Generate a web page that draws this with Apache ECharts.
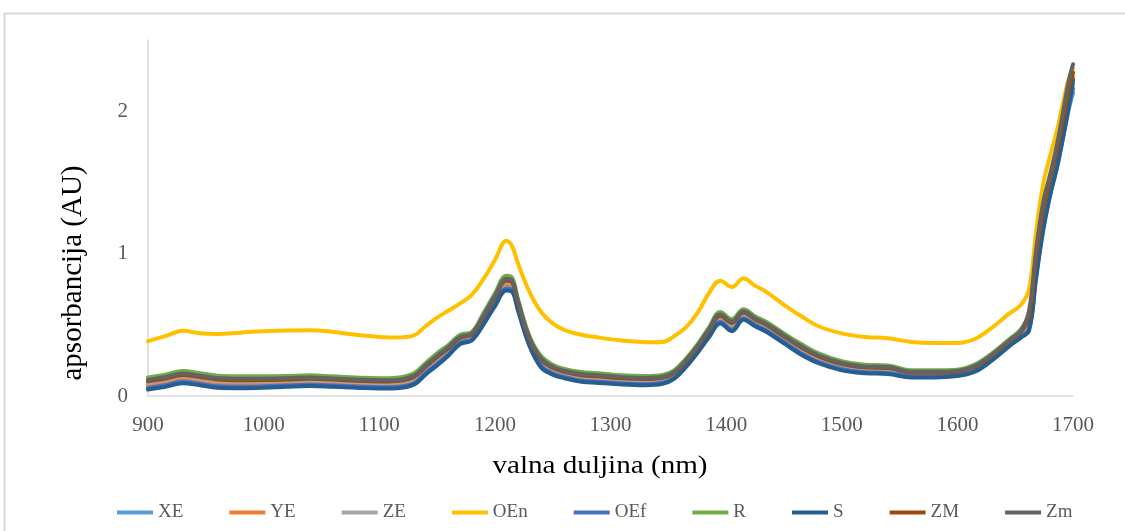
<!DOCTYPE html>
<html>
<head>
<meta charset="utf-8">
<script src="https://cdn.jsdelivr.net/npm/echarts@6/dist/echarts.min.js"></script>
<style>
html,body{margin:0;padding:0;background:#fff;}
#chart{width:1125px;height:531px;}
</style>
</head>
<body>
<div id="chart"></div>
<script>
const wavelengths = [900,915,930,945,960,980,1000,1020,1040,1060,1080,1100,1115,1130,1140,1150,1160,1170,1180,1190,1200,1210,1215,1220,1230,1240,1250,1260,1275,1290,1310,1330,1345,1355,1365,1375,1385,1395,1405,1415,1425,1435,1450,1465,1480,1500,1520,1540,1560,1580,1600,1615,1630,1645,1655,1662,1668,1674,1680,1686,1692,1696,1700];

const XE  = [.066,.086,.111,.096,.079,.076,.078,.084,.089,.083,.076,.07,.073,.10,.17,.236,.304,.381,.405,.52,.653,.766,.755,.62,.368,.22,.168,.141,.117,.109,.096,.091,.101,.135,.215,.315,.428,.53,.476,.554,.508,.468,.388,.309,.248,.196,.175,.17,.143,.143,.151,.183,.263,.363,.425,.48,.85,1.18,1.42,1.6,1.84,2.0,2.13];
const YE  = [.081,.101,.126,.111,.094,.09,.092,.097,.102,.096,.088,.082,.086,.114,.184,.251,.317,.392,.415,.534,.668,.784,.772,.634,.379,.234,.179,.152,.129,.121,.107,.102,.111,.145,.225,.325,.439,.544,.491,.567,.519,.479,.399,.322,.259,.207,.185,.18,.151,.151,.159,.191,.271,.371,.435,.52,.92,1.25,1.48,1.68,1.92,2.1,2.24];
const ZE  = [.092,.112,.137,.122,.105,.101,.102,.106,.111,.105,.098,.092,.095,.124,.194,.262,.326,.401,.423,.544,.68,.798,.785,.644,.389,.244,.189,.161,.137,.129,.116,.111,.12,.153,.233,.333,.449,.554,.502,.576,.529,.489,.409,.331,.269,.216,.193,.188,.158,.158,.165,.198,.278,.378,.443,.53,.9,1.23,1.46,1.66,1.9,2.07,2.2];
const OEn = [.385,.42,.458,.44,.435,.445,.455,.46,.462,.45,.43,.415,.41,.425,.49,.55,.6,.65,.71,.82,.955,1.09,1.05,.93,.73,.59,.51,.465,.43,.41,.39,.378,.38,.42,.48,.58,.72,.81,.765,.825,.775,.73,.64,.56,.49,.44,.415,.405,.38,.372,.372,.4,.48,.58,.64,.75,1.15,1.48,1.68,1.86,2.08,2.22,2.3];
const OEf = [.055,.075,.10,.085,.068,.065,.068,.074,.079,.074,.067,.061,.064,.09,.16,.225,.294,.373,.397,.51,.641,.753,.742,.61,.358,.21,.158,.133,.108,.1,.088,.083,.093,.127,.207,.307,.418,.52,.465,.544,.498,.458,.378,.299,.238,.188,.167,.162,.136,.136,.145,.176,.256,.356,.417,.47,.84,1.17,1.41,1.61,1.85,2.02,2.16];
const R   = [.13,.15,.175,.16,.143,.138,.138,.14,.145,.138,.13,.124,.128,.16,.23,.3,.36,.43,.45,.58,.72,.845,.83,.68,.42,.28,.22,.19,.168,.16,.145,.14,.148,.18,.26,.36,.48,.59,.54,.61,.56,.52,.44,.365,.3,.245,.22,.215,.18,.18,.185,.22,.3,.4,.47,.58,.95,1.28,1.5,1.7,1.93,2.08,2.19];
const S   = [.045,.065,.09,.075,.058,.055,.058,.065,.07,.065,.058,.052,.055,.08,.15,.215,.285,.365,.39,.5,.63,.74,.73,.6,.35,.2,.15,.125,.1,.092,.08,.075,.085,.12,.2,.3,.41,.51,.455,.535,.49,.45,.37,.29,.23,.18,.16,.155,.13,.13,.14,.17,.25,.35,.41,.46,.82,1.15,1.4,1.6,1.84,2.02,2.22];
const ZM  = [.103,.123,.148,.133,.116,.111,.112,.116,.121,.115,.107,.101,.105,.134,.204,.273,.336,.409,.431,.554,.691,.811,.798,.654,.398,.254,.198,.169,.146,.138,.124,.119,.128,.161,.241,.341,.458,.564,.513,.586,.538,.498,.418,.341,.278,.224,.201,.196,.164,.164,.171,.204,.284,.384,.451,.56,.97,1.3,1.52,1.72,1.96,2.14,2.27];
const Zm  = [.113,.133,.158,.143,.126,.121,.122,.125,.13,.123,.116,.11,.113,.144,.214,.283,.345,.417,.438,.564,.702,.824,.81,.664,.406,.264,.206,.177,.154,.146,.132,.127,.135,.168,.248,.348,.466,.574,.523,.595,.546,.506,.426,.35,.286,.232,.208,.203,.17,.17,.176,.21,.29,.39,.458,.6,1.02,1.35,1.55,1.76,2.02,2.2,2.33];

const seriesNames = ['XE','YE','ZE','OEn','OEf','R','S','ZM','Zm'];
const seriesValues = [XE,YE,ZE,OEn,OEf,R,S,ZM,Zm];
const seriesColors = ['#5B9BD5','#ED7D31','#A5A5A5','#FFC000','#4472C4','#70AD47','#255E91','#9E480E','#636363'];

const xTitle = 'valna duljina (nm)';
const yTitle = 'apsorbancija (AU)';

const FONT = '"Liberation Serif", "Times New Roman", serif';

const chart = echarts.init(document.getElementById('chart'), null, {renderer: 'canvas'});
chart.setOption({
  animation: false,
  backgroundColor: '#ffffff',
  grid: {left: 148, right: 52, top: 40, bottom: 135, containLabel: false},
  xAxis: {
    type: 'value', min: 900, max: 1700, interval: 100,
    axisLine: {show: true, lineStyle: {color: '#d9d9d9', width: 1.5}},
    axisTick: {show: false},
    splitLine: {show: false},
    axisLabel: {color: '#595959', fontFamily: FONT, fontSize: 21, margin: 19,
                formatter: v => String(v)}
  },
  yAxis: {
    type: 'value', min: 0, max: 2.5, interval: 1,
    axisLine: {show: true, lineStyle: {color: '#d9d9d9', width: 1.5}},
    axisTick: {show: false},
    splitLine: {show: false},
    axisLabel: {color: '#595959', fontFamily: FONT, fontSize: 21, margin: 20, showMaxLabel: false,
                formatter: v => String(v), padding: [4, 0, 0, 0]}
  },
  legend: {
    left: 112, top: 498,
    icon: 'rect', itemWidth: 36, itemHeight: 4, itemGap: 46,
    textStyle: {color: '#595959', fontFamily: FONT, fontSize: 19},
    data: seriesNames
  },
  graphic: [
    {type: 'rect', silent: true, shape: {x: 4.5, y: 13.5, width: 1200, height: 600},
     style: {fill: 'none', stroke: '#d9d9d9', lineWidth: 2}},
    {type: 'text', x: 600, y: 466, scaleX: 1.12, silent: true,
     style: {text: xTitle, font: '26px ' + FONT, fill: '#000', align: 'center', verticalAlign: 'middle'}},
    {type: 'text', x: 73, y: 273, rotation: Math.PI / 2, silent: true,
     style: {text: yTitle, font: '29px ' + FONT, fill: '#000', align: 'center', verticalAlign: 'middle'}}
  ],
  series: seriesNames.map((name, k) => ({
    name: name,
    type: 'line',
    data: wavelengths.map((w, i) => [w, seriesValues[k][i]]),
    showSymbol: false,
    smooth: 0.4,
    color: seriesColors[k],
    lineStyle: {width: 4, color: seriesColors[k], cap: 'round', join: 'round'}
  }))
});
</script>
</body>
</html>
